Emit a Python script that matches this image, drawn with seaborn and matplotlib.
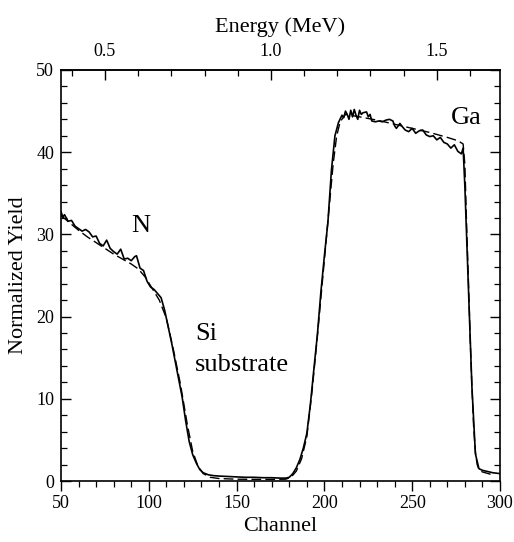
import matplotlib
matplotlib.use("Agg")
from matplotlib import pyplot as plt
from matplotlib.ticker import MultipleLocator
import seaborn as sns

# measured spectrum (solid line)
channel_exp = [50, 51, 52, 54, 56, 58, 60, 62, 64, 66, 68, 70, 72, 74, 76, 78, 80, 82, 84, 86,
               88, 90, 92, 93, 95, 97, 99, 101, 103, 105, 107, 109, 111, 113, 115, 117, 119,
               121, 123, 125, 127, 129, 131, 134, 137, 140, 145, 150, 155, 160, 165, 170, 175,
               178, 180, 182, 184, 186, 188, 190, 192, 194, 196, 198, 200, 202, 204, 206, 208,
               210, 211, 212, 213, 214, 215, 216, 217, 218, 219, 220, 221, 222, 224, 225, 226,
               227, 229, 231, 233, 235, 237, 239, 240, 241, 243, 244, 246, 248, 250, 252, 254,
               256, 258, 260, 262, 264, 266, 268, 270, 272, 274, 276, 278, 279, 280, 282, 284,
               286, 288, 290, 292, 294, 296, 298, 300]
yield_exp = [32.8, 32.1, 32.4, 31.6, 31.7, 31.0, 30.7, 30.4, 30.6, 30.3, 29.7, 29.8, 28.9, 28.6,
             29.3, 28.3, 27.9, 27.6, 28.2, 27.0, 27.1, 26.8, 27.3, 27.4, 25.9, 25.6, 24.3, 23.6,
             23.3, 22.8, 22.3, 20.8, 18.8, 16.8, 14.6, 12.4, 10.2, 7.3, 4.8, 3.2, 2.2, 1.4, 1.0,
             0.75, 0.65, 0.6, 0.55, 0.5, 0.45, 0.45, 0.4, 0.4, 0.35, 0.35, 0.45, 0.9, 1.6, 2.6,
             4.0, 5.8, 9.3, 13.6, 17.8, 23.0, 27.4, 31.5, 37.8, 42.0, 43.6, 44.5, 44.2, 45.0,
             44.6, 44.0, 45.1, 44.3, 45.2, 44.5, 44.0, 45.1, 44.6, 44.8, 44.9, 44.3, 44.6, 43.8,
             43.7, 43.8, 43.7, 43.9, 44.0, 43.8, 43.2, 42.9, 43.5, 43.2, 42.7, 42.5, 42.9, 42.3,
             42.6, 42.7, 42.1, 41.9, 42.0, 41.5, 41.8, 41.2, 41.0, 40.5, 40.9, 40.1, 39.8, 40.5,
             35.8, 23.6, 11.5, 3.3, 1.5, 1.3, 1.2, 1.1, 1.0, 0.95, 0.9]

# simulated spectrum (dashed line)
channel_sim = [50, 55, 60, 65, 70, 75, 80, 85, 90, 94, 98, 102, 106, 110, 114, 118, 122, 125,
               128, 131, 135, 140, 150, 160, 170, 178, 181, 184, 187, 190, 193, 196, 199, 202,
               205, 207, 209, 212, 220, 230, 240, 250, 260, 270, 276, 279, 280, 281, 282, 283,
               284, 285, 286, 287, 288, 290, 295]
yield_sim = [32.3, 31.4, 30.5, 29.7, 29.0, 28.3, 27.6, 27.0, 26.4, 25.8, 24.8, 23.4, 22.0, 19.8,
             16.0, 11.8, 6.8, 3.6, 1.8, 0.9, 0.45, 0.3, 0.22, 0.2, 0.2, 0.22, 0.45, 1.2, 2.7,
             5.4, 11.0, 17.6, 24.6, 31.6, 38.6, 42.0, 43.7, 44.6, 44.3, 43.9, 43.4, 42.9, 42.4,
             41.8, 41.4, 41.0, 38.5, 31.0, 24.5, 17.5, 11.5, 6.5, 3.5, 2.0, 1.4, 1.1, 0.8]

# top axis: energy ticks (MeV) and channel -> energy calibration
energy_major = [0.5, 1.0, 1.5]
energy_labels = ["0.5", "1.0", "1.5"]
energy_minor = [0.4, 0.6, 0.7, 0.8, 0.9, 1.1, 1.2, 1.3, 1.4, 1.6]
e_slope = 0.005291
e_offset = 0.1029

sns.set_theme(style="ticks")
plt.rcParams['font.family'] = ['Liberation Serif', 'DejaVu Serif']
plt.rcParams['text.color'] = 'black'
plt.rcParams['axes.labelcolor'] = 'black'
plt.rcParams['xtick.color'] = 'black'
plt.rcParams['ytick.color'] = 'black'

fig = plt.figure(figsize=(5.14, 5.42), dpi=100)
ax = fig.add_axes([61 / 514, 61 / 542, 439 / 514, 411 / 542])

sns.lineplot(x=channel_exp, y=yield_exp, ax=ax, color="black", linewidth=1.2)
sns.lineplot(x=channel_sim, y=yield_sim, ax=ax, color="black", linewidth=1.0,
             linestyle=(0, (7, 3)))

ax.set_xlim(50, 300)
ax.set_ylim(0, 50)
ax.xaxis.set_major_locator(MultipleLocator(50))
ax.xaxis.set_minor_locator(MultipleLocator(10))
ax.yaxis.set_major_locator(MultipleLocator(10))
ax.yaxis.set_minor_locator(MultipleLocator(2))

ax.tick_params(axis='x', which='both', direction='out', top=False, labelsize=13, pad=3)
ax.tick_params(axis='y', which='both', direction='in', left=True, right=True, labelsize=13,
               pad=5)
ax.tick_params(which='major', length=7, width=1.0)
ax.tick_params(which='minor', length=4, width=0.9)
for s in ax.spines.values():
    s.set_visible(True)
    s.set_color('black')
    s.set_linewidth(1.2)

ax.set_xlabel("Channel", fontsize=16, labelpad=4)
ax.set_ylabel("Normalized Yield", fontsize=16, labelpad=6)

top = ax.secondary_xaxis('top', functions=(lambda c: e_slope * c + e_offset,
                                           lambda e: (e - e_offset) / e_slope))
top.set_xticks(energy_major, energy_labels)
top.set_xticks(energy_minor, minor=True)
top.tick_params(which='both', direction='in', labelsize=13, pad=7)
top.tick_params(which='major', length=7, width=1.0)
top.tick_params(which='minor', length=4, width=0.9)
top.set_xlabel("Energy (MeV)", fontsize=16, labelpad=8)

ax.text(95.6, 30.3, "N", fontsize=19, ha='center', va='baseline')
ax.text(126.3, 17.2, "Si", fontsize=19, ha='left', va='baseline')
ax.text(126.3, 13.4, "substrate", fontsize=19, ha='left', va='baseline')
ax.text(280.6, 43.4, "Ga", fontsize=19, ha='center', va='baseline')

fig.savefig("out.png", dpi=100)
